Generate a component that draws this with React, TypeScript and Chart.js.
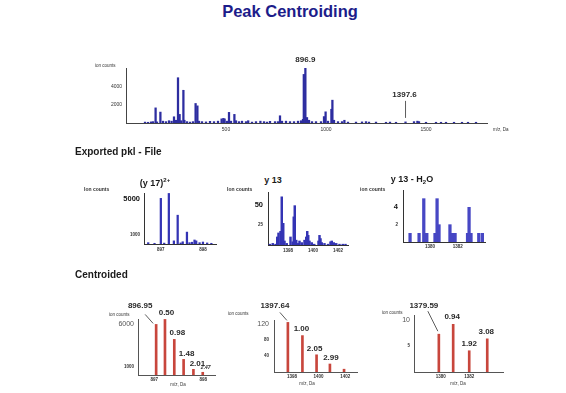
import React, { useEffect, useRef } from "react";
import { Chart, registerables } from "chart.js";

Chart.register(...registerables);
const FONT = "'Liberation Sans', Arial, Helvetica, sans-serif";
Chart.defaults.font.family = FONT;

// ---------------- DATA ----------------
// Survey spectrum (top)
const surveyMz = [95,110,125,135,148,155,172,185,200,215,228,240,250,260,268,276,287,292,305,320,335,348,357,365,380,400,420,440,460,478,487,493,505,515,525,542,550,565,580,600,611,630,650,672,690,705,720,745,760,770,780,800,820,840,860,875,885,889,896.9,905,915,930,950,975,990,998,1010,1027,1032,1040,1060,1080,1092,1110,1150,1180,1200,1215,1250,1300,1320,1350,1397.6,1440,1457,1465,1500,1550,1575,1600,1640,1680,1710,1750];
const surveyCounts = [100,80,120,150,1650,120,1190,200,150,250,200,680,300,4940,940,250,3570,300,150,100,150,2130,1870,200,150,120,180,150,200,450,500,450,200,1160,200,940,250,150,200,150,250,100,150,200,150,100,180,150,150,790,200,200,150,150,200,250,400,5300,6000,600,300,150,150,150,700,1220,200,1500,2490,300,150,150,300,100,100,120,150,100,100,80,100,80,120,150,200,150,80,80,80,80,80,80,80,80];
const surveyLabelMz = [896.9, 1397.6];
const surveyLabelText = ["896.9", "1397.6"];
const surveyXTicks = [500, 1000, 1500];
const surveyYTicks = [2000, 4000];

// Exported pkl: (y 17)2+
const y17Mz = [896.70, 896.85, 897.00, 897.08, 897.19, 897.31, 897.40, 897.47, 897.52, 897.62, 897.68, 897.74, 897.80, 897.84, 897.92, 898.00, 898.10, 898.20];
const y17Counts = [150, 80, 5100, 100, 5650, 350, 3220, 120, 250, 1330, 150, 200, 450, 350, 150, 220, 120, 80];
const y17XTicks = [897, 898];
const y17YTicks = [1000, 5000];

// Exported pkl: y 13
const y13Mz = [1396.55, 1396.78, 1397.0, 1397.14, 1397.24, 1397.40, 1397.50, 1397.62, 1397.72, 1397.9, 1398.2, 1398.38, 1398.46, 1398.54, 1398.66, 1398.8, 1398.92, 1399.1, 1399.32, 1399.46, 1399.54, 1399.62, 1399.72, 1399.9, 1400.1, 1400.44, 1400.52, 1400.6, 1400.7, 1400.92, 1401.2, 1401.4, 1401.5, 1401.66, 1401.86, 1402.12, 1402.38, 1402.6];
const y13Counts = [1, 2, 1, 10, 15, 17, 60, 27, 5, 2, 10, 4, 35, 49, 6, 2, 5, 3, 6, 10, 17, 12, 5, 3, 1, 5, 12, 8, 3, 2, 1, 4, 5, 3, 2, 1, 1, 1];
const y13XTicks = [1398, 1400, 1402];
const y13YTicks = [25, 50];

// Exported pkl: y 13 - H2O
const y13wMz = [1378.56, 1379.21, 1379.55, 1379.65, 1379.77, 1380.36, 1380.51, 1380.65, 1381.44, 1381.62, 1381.81, 1382.71, 1382.82, 1382.96, 1383.52, 1383.78];
const y13wCounts = [1, 1, 5, 1, 1, 1, 5, 2, 2, 1, 1, 1, 4, 1, 1, 1];
const y13wXTicks = [1380, 1382];
const y13wYTicks = [2, 4];

// Centroided
const c17Mz = [897.04, 897.22, 897.41, 897.60, 897.80, 897.99];
const c17Counts = [5960, 6550, 4200, 1840, 670, 320];
const c17Labels = ["896.95", "0.50", "0.98", "1.48", "2.01", "2.47"];
const c17XTicks = [897, 898];
const c17YTicks = [1000, 6000];

const c13Mz = [1397.70, 1398.79, 1399.85, 1400.85, 1401.91];
const c13Counts = [124, 91, 43, 20, 7];
const c13Labels = ["1397.64", "1.00", "2.05", "2.99", ""];
const c13XTicks = [1398, 1400, 1402];
const c13YTicks = [40, 80, 120];

const c13wMz = [1379.86, 1380.87, 1382.00, 1383.27];
const c13wCounts = [7.3, 9.2, 4.1, 6.4];
const c13wLabels = ["1379.59", "0.94", "1.92", "3.08"];
const c13wXTicks = [1380, 1382];
const c13wYTicks = [5, 10];

// ---------------- STYLE / LAYOUT ----------------
type F = { size: number; weight?: string; style?: string };
const tiny: F = { size: 4.5, weight: "bold" };
const small: F = { size: 5, weight: "normal" };
const majB: F = { size: 7.5, weight: "bold" };
const majN: F = { size: 7, weight: "normal" };
const lblFont = "bold 8px " + FONT;
const lblSmall = "italic bold 5px " + FONT;

type LabelItem = { x: number; y: number; text: string; dx: number; dy: number; leader?: number[] | null; font: string };

const surveyLabelStyle = [
  { dx: 0, dy: -8, leader: null },
  { dx: -1, dy: -27, leader: [0, -21, 0, -4] },
];
const c17Style = [
  { dx: -16, dy: -19, leader: [-11, -10, -3, -1] },
  { dx: 1.5, dy: -7 }, { dx: 3, dy: -7 }, { dx: 3, dy: -6 }, { dx: 4, dy: -6 }, { dx: 3, dy: -5, small: true },
];
const c13Style = [
  { dx: -13, dy: -17, leader: [-8, -10, -1, -2] },
  { dx: -1, dy: -7 }, { dx: -2, dy: -6 }, { dx: 1, dy: -6 }, { dx: 0, dy: -6 },
];
const c13wStyle = [
  { dx: -15, dy: -28, leader: [-11, -23, -1, -3] },
  { dx: -1, dy: -8 }, { dx: 0, dy: -7 }, { dx: -1, dy: -7 },
];

function makeLabels(mz: number[], counts: number[], texts: string[], styles: any[]): LabelItem[] {
  const out: LabelItem[] = [];
  texts.forEach((t, i) => {
    if (!t) return;
    const s = styles[i];
    out.push({ x: mz[i], y: counts[i], text: t, dx: s.dx, dy: s.dy, leader: s.leader || null, font: s.small ? lblSmall : lblFont });
  });
  return out;
}

const surveyLabels: LabelItem[] = surveyLabelMz.map((m, k) => ({
  x: m,
  y: surveyCounts[surveyMz.indexOf(m)],
  text: surveyLabelText[k],
  dx: surveyLabelStyle[k].dx,
  dy: surveyLabelStyle[k].dy,
  leader: surveyLabelStyle[k].leader,
  font: lblFont,
}));

type Spec = {
  box: [number, number, number, number];
  yAxisW: number; xAxisH: number; padTop: number; padRight: number;
  xMin: number; xMax: number; yMax: number;
  mz: number[]; counts: number[];
  xTicks: number[]; yTicks: number[];
  yFonts: F[]; xFont: F; yColors: string[];
  xPad: number; yPad: number;
  color: string; barW: number; axisColor: string;
  labels: LabelItem[];
};

const BLUE_TOP = "#2d2da0";
const BLUE_MID = "#3434b4";
const BLUE_LIGHT = "#4747c4";
const RED = "#c8463c";

const specs: Spec[] = [
  {
    box: [92, 54, 425, 84], yAxisW: 34, xAxisH: 15, padTop: 14, padRight: 30,
    xMin: 0, xMax: 1805, yMax: 6000, mz: surveyMz, counts: surveyCounts,
    xTicks: surveyXTicks, yTicks: surveyYTicks, yFonts: [small, small], xFont: small, yColors: ["#333", "#333"],
    xPad: 4, yPad: 4, color: BLUE_TOP, barW: 1.6, axisColor: "#444", labels: surveyLabels,
  },
  {
    box: [110, 186, 112, 70], yAxisW: 34, xAxisH: 12, padTop: 7, padRight: 6,
    xMin: 896.6, xMax: 898.31, yMax: 5700, mz: y17Mz, counts: y17Counts,
    xTicks: y17XTicks, yTicks: y17YTicks, yFonts: [tiny, majB], xFont: tiny, yColors: ["#333", "#111"],
    xPad: 3, yPad: 4, color: BLUE_MID, barW: 1.6, axisColor: "#333", labels: [],
  },
  {
    box: [235, 186, 118, 70], yAxisW: 33, xAxisH: 11, padTop: 6, padRight: 5,
    xMin: 1396.4, xMax: 1402.8, yMax: 66, mz: y13Mz, counts: y13Counts,
    xTicks: y13XTicks, yTicks: y13YTicks, yFonts: [tiny, majB], xFont: tiny, yColors: ["#333", "#111"],
    xPad: 3, yPad: 5, color: BLUE_MID, barW: 1.8, axisColor: "#333", labels: [],
  },
  {
    box: [370, 184, 120, 70], yAxisW: 33, xAxisH: 12, padTop: 6, padRight: 5,
    xMin: 1378.05, xMax: 1383.97, yMax: 6, mz: y13wMz, counts: y13wCounts,
    xTicks: y13wXTicks, yTicks: y13wYTicks, yFonts: [tiny, majB], xFont: tiny, yColors: ["#333", "#111"],
    xPad: 2.5, yPad: 5, color: BLUE_LIGHT, barW: 2.6, axisColor: "#333", labels: [],
  },
  {
    box: [100, 296, 122, 92], yAxisW: 38, xAxisH: 13, padTop: 23, padRight: 7,
    xMin: 896.67, xMax: 898.24, yMax: 6600, mz: c17Mz, counts: c17Counts,
    xTicks: c17XTicks, yTicks: c17YTicks, yFonts: [tiny, majN], xFont: tiny, yColors: ["#333", "#555"],
    xPad: 2, yPad: 4, color: RED, barW: 2, axisColor: "#555",
    labels: makeLabels(c17Mz, c17Counts, c17Labels, c17Style),
  },
  {
    box: [240, 296, 125, 92], yAxisW: 34, xAxisH: 16, padTop: 24, padRight: 8,
    xMin: 1396.66, xMax: 1402.88, yMax: 130, mz: c13Mz, counts: c13Counts,
    xTicks: c13XTicks, yTicks: c13YTicks, yFonts: [tiny, tiny, majN], xFont: tiny, yColors: ["#333", "#333", "#555"],
    xPad: 2, yPad: 5, color: RED, barW: 2, axisColor: "#555",
    labels: makeLabels(c13Mz, c13Counts, c13Labels, c13Style),
  },
  {
    box: [380, 296, 130, 92], yAxisW: 34, xAxisH: 16, padTop: 19, padRight: 7,
    xMin: 1378.11, xMax: 1384.38, yMax: 11, mz: c13wMz, counts: c13wCounts,
    xTicks: c13wXTicks, yTicks: c13wYTicks, yFonts: [tiny, majN], xFont: tiny, yColors: ["#333", "#555"],
    xPad: 2, yPad: 4, color: RED, barW: 2, axisColor: "#555",
    labels: makeLabels(c13wMz, c13wCounts, c13wLabels, c13wStyle),
  },
];

// ---------------- PLUGIN ----------------
const peakLabelPlugin = {
  id: "peakLabels",
  afterDatasetsDraw(chart: any, _args: any, opts: any) {
    const items: LabelItem[] = (opts && opts.items) || [];
    const { ctx } = chart;
    const xs = chart.scales.x;
    const ys = chart.scales.y;
    ctx.save();
    ctx.fillStyle = "#2a2a2a";
    ctx.strokeStyle = "#333";
    ctx.lineWidth = 0.8;
    ctx.textAlign = "center";
    ctx.textBaseline = "middle";
    for (const it of items) {
      const px = xs.getPixelForValue(it.x);
      const py = ys.getPixelForValue(it.y);
      ctx.font = it.font;
      ctx.fillText(it.text, px + it.dx, py + it.dy);
      if (it.leader) {
        ctx.beginPath();
        ctx.moveTo(px + it.leader[0], py + it.leader[1]);
        ctx.lineTo(px + it.leader[2], py + it.leader[3]);
        ctx.stroke();
      }
    }
    ctx.restore();
  },
};

function buildConfig(s: Spec): any {
  return {
    type: "bar",
    data: {
      datasets: [
        {
          data: s.mz.map((x, i) => ({ x, y: s.counts[i] })),
          backgroundColor: s.color,
          borderWidth: 0,
          barThickness: s.barW,
        },
      ],
    },
    plugins: [peakLabelPlugin],
    options: {
      animation: false,
      responsive: false,
      maintainAspectRatio: false,
      events: [],
      layout: { padding: { top: s.padTop, right: s.padRight, left: 0, bottom: 0 } },
      plugins: {
        legend: { display: false },
        tooltip: { enabled: false },
        title: { display: false },
        peakLabels: { items: s.labels },
      },
      scales: {
        x: {
          type: "linear",
          min: s.xMin,
          max: s.xMax,
          offset: false,
          grid: { display: false, drawTicks: false, offset: false },
          border: { display: true, color: s.axisColor, width: 1 },
          afterBuildTicks: (sc: any) => {
            sc.ticks = s.xTicks.map((v) => ({ value: v }));
          },
          afterFit: (sc: any) => {
            sc.height = s.xAxisH;
            sc.paddingLeft = 0;
            sc.paddingRight = 0;
          },
          ticks: {
            autoSkip: false,
            maxRotation: 0,
            minRotation: 0,
            padding: s.xPad,
            color: "#333",
            font: s.xFont,
            callback: (v: any) => String(v),
          },
        },
        y: {
          type: "linear",
          min: 0,
          max: s.yMax,
          grid: { display: false, drawTicks: false },
          border: { display: true, color: s.axisColor, width: 1 },
          afterBuildTicks: (sc: any) => {
            sc.ticks = s.yTicks.map((v) => ({ value: v }));
          },
          afterFit: (sc: any) => {
            sc.width = s.yAxisW;
            sc.paddingTop = 0;
            sc.paddingBottom = 0;
          },
          ticks: {
            autoSkip: false,
            padding: s.yPad,
            color: (c: any) => s.yColors[c.index] || "#333",
            font: (c: any) => s.yFonts[c.index] || tiny,
            callback: (v: any) => String(v),
          },
        },
      },
    },
  };
}

function Spectrum({ spec }: { spec: Spec }) {
  const ref = useRef<HTMLCanvasElement>(null);
  useEffect(() => {
    if (!ref.current) return;
    const chart = new Chart(ref.current, buildConfig(spec));
    return () => chart.destroy();
  }, [spec]);
  const [l, t, w, h] = spec.box;
  return (
    <div style={{ position: "absolute", left: l, top: t, width: w, height: h }}>
      <canvas ref={ref} width={w} height={h} style={{ display: "block", width: w, height: h }} />
    </div>
  );
}

function Txt(props: {
  x: number; y: number; size: number; bold?: boolean; italic?: boolean;
  color?: string; align?: "left" | "center" | "right"; children: React.ReactNode;
}) {
  const { x, y, size, bold, italic, color = "#222", align = "left", children } = props;
  const tx = align === "center" ? "-50%" : align === "right" ? "-100%" : "0";
  return (
    <div
      style={{
        position: "absolute",
        left: x,
        top: y,
        transform: `translate(${tx}, -50%)`,
        fontFamily: FONT,
        fontSize: size,
        fontWeight: bold ? 700 : 400,
        fontStyle: italic ? "italic" : "normal",
        color,
        lineHeight: 1,
        whiteSpace: "nowrap",
      }}
    >
      {children}
    </div>
  );
}

export default function App() {
  return (
    <div
      style={{
        position: "fixed",
        left: 0,
        top: 0,
        width: 566,
        height: 393,
        background: "#ffffff",
        overflow: "hidden",
      }}
    >
      {specs.map((s, i) => (
        <Spectrum key={i} spec={s} />
      ))}

      <Txt x={290} y={10.5} size={16.5} bold color="#1c1c8a" align="center">Peak Centroiding</Txt>

      {/* top survey */}
      <Txt x={95} y={66} size={4.5} color="#333">ion counts</Txt>
      <Txt x={493} y={130} size={4.5} color="#333">m/z, Da</Txt>

      <Txt x={75} y={152} size={10} bold color="#1a1a1a">Exported pkl - File</Txt>

      <Txt x={155} y={182} size={9} bold color="#1a1a1a" align="center">
        (y 17)<sup style={{ fontSize: 6, verticalAlign: "4px" }}>2+</sup>
      </Txt>
      <Txt x={273} y={180} size={9} bold color="#1a1a1a" align="center">y 13</Txt>
      <Txt x={412} y={180} size={9} bold color="#1a1a1a" align="center">
        y 13 - H<sub style={{ fontSize: 6, verticalAlign: "-2px" }}>2</sub>O
      </Txt>
      <Txt x={84} y={189} size={5} bold color="#333">Ion counts</Txt>
      <Txt x={227} y={189} size={5} bold color="#333">Ion counts</Txt>
      <Txt x={360} y={189} size={5} bold color="#333">ion counts</Txt>

      <Txt x={75} y={275} size={10} bold color="#1a1a1a">Centroided</Txt>

      <Txt x={109} y={315} size={4.5} color="#333">ion counts</Txt>
      <Txt x={178} y={385} size={4.5} color="#333" align="center">m/z, Da</Txt>
      <Txt x={228} y={314} size={4.5} color="#333">ion counts</Txt>
      <Txt x={307} y={384} size={4.5} color="#333" align="center">m/z, Da</Txt>
      <Txt x={382} y={313} size={4.5} color="#333">ion counts</Txt>
      <Txt x={458} y={384} size={4.5} color="#333" align="center">m/z, Da</Txt>
    </div>
  );
}
